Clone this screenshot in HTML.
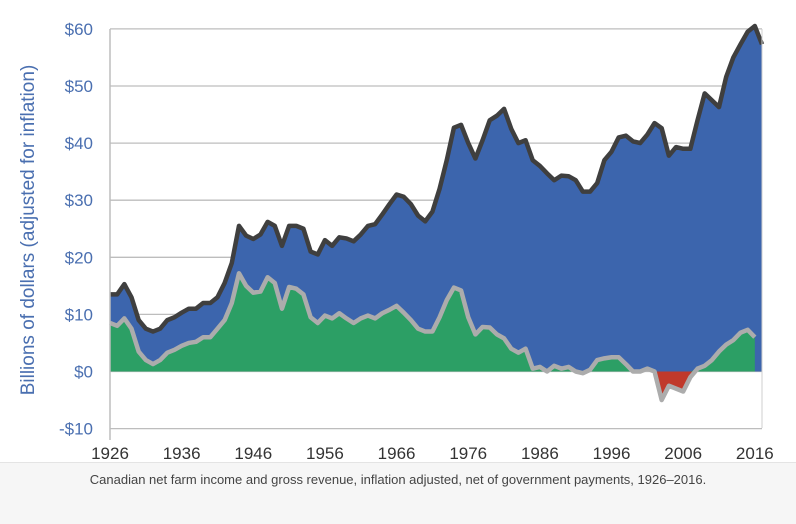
<!DOCTYPE html>
<html><head><meta charset="utf-8"><style>
body{margin:0;background:#fff;font-family:"Liberation Sans",sans-serif}
#cap{position:absolute;left:0;top:462px;width:796px;height:61px;background:#f6f6f6;border-top:1px solid #e4e4e4;text-align:center;font-size:13px;color:#444;line-height:34px}
</style></head><body>
<svg id="chart" width="796" height="462" style="position:absolute;left:0;top:0"></svg>
<div id="cap">Canadian net farm income and gross revenue, inflation adjusted, net of government payments, 1926–2016.</div>
<script>
const startYear=1926;
const gross=[13.5,13.5,15.3,13,9,7.5,7,7.5,9,9.5,10.3,11,11,12,12,13,15.5,19,25.5,23.8,23.2,24,26.2,25.5,22,25.5,25.5,25,21,20.5,23,22,23.5,23.3,22.8,24,25.5,25.8,27.5,29.3,31,30.6,29.3,27.3,26.3,28,32,37,42.7,43.2,40,37.3,40.5,44,44.8,46,42.5,40,40.5,37,36,34.7,33.5,34.3,34.2,33.5,31.5,31.5,33,37,38.5,41,41.3,40.3,40,41.5,43.5,42.6,37.8,39.3,39,39,44,48.7,47.5,46.3,51.6,55,57.3,59.5,60.5,57.3];
const net=[8.5,8,9.3,7.5,3.5,2,1.3,2,3.3,3.8,4.5,5,5.2,6,6,7.5,9,12,17.2,15,13.8,14,16.5,15.5,11,14.8,14.5,13.5,9.5,8.5,9.8,9.3,10.2,9.3,8.5,9.3,9.8,9.3,10.2,10.8,11.5,10.3,9,7.5,7,7,9.5,12.5,14.7,14.2,9.5,6.5,7.8,7.7,6.5,5.8,4,3.3,4,0.5,0.8,0,1,0.5,0.8,0,-0.3,0.3,2,2.3,2.5,2.5,1.3,0,0,0.5,0,-5,-2.5,-3,-3.5,-1,0.5,1,2,3.5,4.7,5.5,6.8,7.3,6];
const yTicks=[60,50,40,30,20,10,0,-10];
const xTicks=[1926,1936,1946,1956,1966,1976,1986,1996,2006,2016];
const NS='http://www.w3.org/2000/svg',svg=document.getElementById('chart');
const x0=110,x1=762;
const X=i=>x0+(x1-x0)*i/(gross.length-1);
const XY=y=>x0+(x1-x0)*(y-startYear)/(gross.length-1);
const Y=v=>371.5-v*5.71;
function mk(t,a){const e=document.createElementNS(NS,t);for(const k in a)e.setAttribute(k,a[k]);svg.appendChild(e);return e;}
yTicks.forEach(v=>{
 const g=mk('line',{x1:x0,x2:x1,y1:Y(v),y2:Y(v),stroke:'#bdbdbd','stroke-width':1.3});
 
 
 const t=mk('text',{x:93,y:Y(v)+6,'text-anchor':'end','font-size':17,fill:'#4a6fb0'});
 t.textContent=(v<0?'-$'+(-v):'$'+v);
 
 
});
function area(vals,name,fill){
 let d='M'+X(0)+','+Y(0);
 vals.forEach((v,i)=>d+='L'+X(i)+','+Y(v));
 d+='L'+X(vals.length-1)+','+Y(0)+'Z';
 const p=mk('path',{d:d,fill:fill});
 
 
}
function line(vals,name,col){
 const p=mk('polyline',{points:vals.map((v,i)=>X(i)+','+Y(v)).join(' '),fill:'none',stroke:col,'stroke-width':4.5,'stroke-linejoin':'round'});
 
 
}
area(gross,'gross-revenue-area','#3c65ad');
area(net.map(v=>Math.max(v,0)),'net-income-positive-area','#2c9f65');
area(net.map(v=>Math.min(v,0)),'net-income-negative-area','#c0392b');
line(net,'net-income-line','#acacac');
line(gross,'gross-revenue-line','#3f3f3f');
const ax=mk('line',{x1:x0,x2:x0,y1:29,y2:440,stroke:'#bdbdbd','stroke-width':1.5});

const rb=mk('line',{x1:x1,x2:x1,y1:29,y2:428,stroke:'#cfcfcf','stroke-width':1});

xTicks.forEach(y=>{
 const t=mk('text',{x:XY(y),y:459,'text-anchor':'middle','font-size':17,fill:'#333'});
 t.textContent=y;
 
 
});
const tt=mk('text',{x:0,y:0,transform:'translate(34,230) rotate(-90)','text-anchor':'middle','font-size':19,fill:'#4a6fb0'});
tt.textContent='Billions of dollars (adjusted for inflation)';


</script>
</body></html>
